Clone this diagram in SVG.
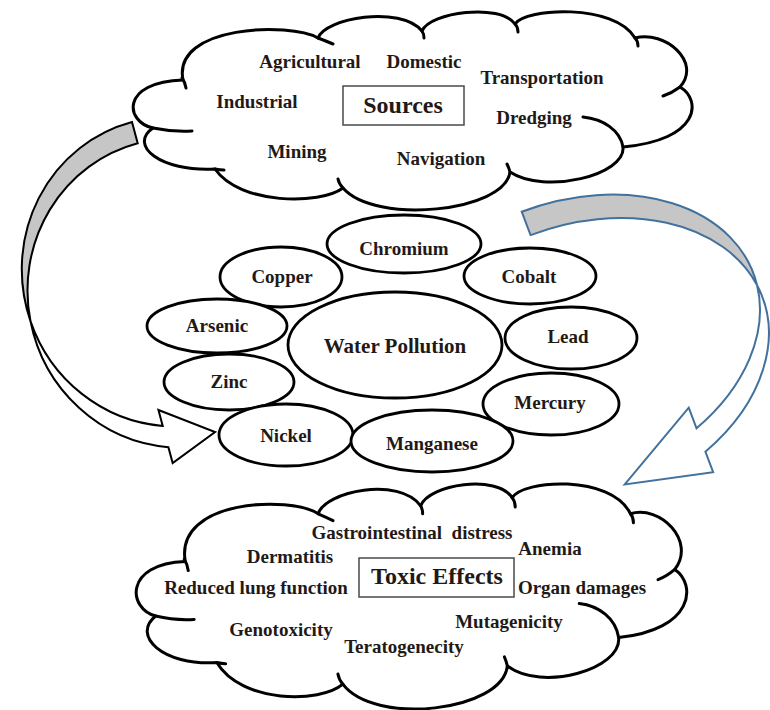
<svg xmlns="http://www.w3.org/2000/svg" xmlns:xlink="http://www.w3.org/1999/xlink" width="770" height="710" viewBox="0 0 770 710">
  <style>
    .cloud{fill:#fff;stroke:#000;stroke-width:3;stroke-linejoin:round}
    .hook{fill:none;stroke:#000;stroke-width:3;stroke-linecap:round}
    .box{fill:#fff;stroke:#4a4a4a;stroke-width:1.5}
    .oval{fill:#fff;stroke:#000;stroke-width:2.8}
    .lbl{font-family:"Liberation Serif","Times New Roman",serif;font-weight:bold;font-size:19px;fill:#1f1a17;text-anchor:middle}
    .big{font-size:21px}
    .title{font-family:"Liberation Serif","Times New Roman",serif;font-weight:bold;font-size:24px;fill:#1f1a17;text-anchor:middle}
    .back{fill:#c6c6c6}
    .front{fill:#fff}
    .arrow-k path{stroke:#000;stroke-width:2;stroke-linejoin:miter}
    .arrow-b path{stroke:#41719c;stroke-width:2;stroke-linejoin:miter}
  </style>
  <defs>
    <!-- cloud outline: eleven lobes, clockwise from the upper-left junction -->
    <path id="cloudShape" vector-effect="non-scaling-stroke" d="M183,80 C172,25 290,22 318,38 C325,18 400,5 422,31 C430,12 500,3 515,24 C525,8 615,3 635,38 C665,30 702,62 680,87 C702,100 700,140 623,147 C626,175 545,195 510,172 C505,212 375,225 343,188 C320,205 240,205 215,169 C160,172 128,145 153,128 C125,122 120,82 183,80 Z"/>
    <!-- lobe ends that curl into the cloud -->
    <path id="cloudHooks" vector-effect="non-scaling-stroke" d="M182,78 Q185,82 186,88 M318,38 Q326,41 333,44 M422,31 Q424,34 424,38 M515,24 Q518,27 518,32 M635,38 Q638,41 638,46 M680,87 Q672,93 663,96 M583,117 C603,119 620,130 623,147 M510,172 Q509,168 507,164 M343,188 Q339,184 338,179 M215,169 Q220,170 224,170 M153,128 Q172,132 192,131"/>
  </defs>

  <!-- curved arrows -->
  <g id="connectors">
    <g id="arrow-sources-to-metals" class="arrow-k" transform="translate(132,122) rotate(-15)">
      <path class="back" d="M0,0 A150,155 0 0 0 -149.6,166 A150,155 0 0 1 0,22 Z"/>
      <path class="front" d="M-149.6,166 A150,155 0 0 0 -49,301.5 L-49,285 L0,321 L-49,340 L-49,323.5 A150,155 0 0 1 -149.6,166 Z"/>
    </g>
    <g id="arrow-metals-to-effects" class="arrow-b" transform="translate(521.7,211.7) rotate(-20.7)">
      <path class="back" d="M0,0 A195,139.5 0 0 1 194.2,152 A195,139.5 0 0 0 0,25 Z"/>
      <path class="front" d="M194.2,152 A195,139.5 0 0 1 87,264.4 L87,242.4 L0,291.5 L87,311.4 L87,289.4 A195,139.5 0 0 0 194.2,152 Z"/>
    </g>
  </g>

  <!-- sources cloud -->
  <g id="sources">
    <use xlink:href="#cloudShape" class="cloud"/>
    <use xlink:href="#cloudHooks" class="hook"/>
    <rect class="box" x="343" y="86" width="121" height="39"/>
    <text class="title" x="403" y="113">Sources</text>
    <text class="lbl" x="310" y="68">Agricultural</text>
    <text class="lbl" x="424" y="68">Domestic</text>
    <text class="lbl" x="542" y="84">Transportation</text>
    <text class="lbl" x="257" y="108">Industrial</text>
    <text class="lbl" x="534" y="124">Dredging</text>
    <text class="lbl" x="297" y="158">Mining</text>
    <text class="lbl" x="441" y="165">Navigation</text>
  </g>

  <!-- metal nodes around the centre -->
  <g id="chromium"><ellipse class="oval" cx="404" cy="244" rx="77" ry="29"/><text class="lbl" x="404" y="255">Chromium</text></g>
  <g id="copper"><ellipse class="oval" cx="281" cy="277" rx="61" ry="30"/><text class="lbl" x="282" y="283">Copper</text></g>
  <g id="cobalt"><ellipse class="oval" cx="530" cy="276" rx="66" ry="28"/><text class="lbl" x="529" y="283">Cobalt</text></g>
  <g id="arsenic"><ellipse class="oval" cx="217" cy="326" rx="70" ry="27"/><text class="lbl" x="217" y="332">Arsenic</text></g>
  <g id="lead"><ellipse class="oval" cx="571" cy="338" rx="66" ry="31"/><text class="lbl" x="568" y="343">Lead</text></g>
  <g id="zinc"><ellipse class="oval" cx="229" cy="382" rx="65" ry="28"/><text class="lbl" x="229" y="388">Zinc</text></g>
  <g id="mercury"><ellipse class="oval" cx="551" cy="404" rx="68" ry="31"/><text class="lbl" x="550" y="409">Mercury</text></g>
  <g id="nickel"><ellipse class="oval" cx="286" cy="435" rx="67" ry="31"/><text class="lbl" x="286" y="442">Nickel</text></g>
  <g id="manganese"><ellipse class="oval" cx="432" cy="441" rx="81" ry="31"/><text class="lbl" x="432" y="450">Manganese</text></g>
  <g id="water-pollution"><ellipse class="oval" cx="395" cy="345" rx="107" ry="53"/><text class="lbl big" x="395" y="353">Water Pollution</text></g>

  <!-- toxic effects cloud -->
  <g id="effects">
    <use xlink:href="#cloudShape" class="cloud" transform="matrix(0.985 0 0 1.136 5 470.6)"/>
    <use xlink:href="#cloudHooks" class="hook" transform="matrix(0.985 0 0 1.136 5 470.6)"/>
    <rect class="box" x="359" y="558" width="155" height="39"/>
    <text class="title" x="437" y="584">Toxic Effects</text>
    <text class="lbl" x="412" y="539">Gastrointestinal&#160; distress</text>
    <text class="lbl" x="290" y="563">Dermatitis</text>
    <text class="lbl" x="550" y="555">Anemia</text>
    <text class="lbl" x="256" y="594">Reduced lung function</text>
    <text class="lbl" x="582" y="594">Organ damages</text>
    <text class="lbl" x="509" y="628">Mutagenicity</text>
    <text class="lbl" x="281" y="636">Genotoxicity</text>
    <text class="lbl" x="404" y="653">Teratogenecity</text>
  </g>
</svg>
